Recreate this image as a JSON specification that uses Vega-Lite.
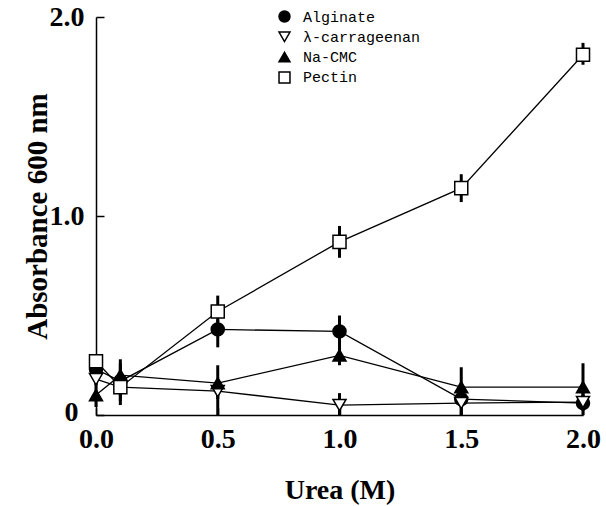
{
  "$schema": "https://vega.github.io/schema/vega-lite/v6.json",
  "autosize": {"type": "none"},
  "padding": {"left": 96, "top": 17, "right": 23, "bottom": 91},
  "width": 487,
  "height": 398,
  "background": "white",
  "config": {
    "view": {"stroke": null},
    "axis": {
      "labelFont": "Liberation Serif",
      "labelFontWeight": "bold",
      "labelFontSize": 28,
      "labelColor": "black",
      "labelFlush": false,
      "labelOverlap": false,
      "titleFont": "Liberation Serif",
      "titleFontWeight": "bold",
      "titleFontSize": 28,
      "titleColor": "black",
      "domainColor": "black",
      "domainWidth": 1.5,
      "tickColor": "black",
      "tickWidth": 1.5,
      "grid": false
    }
  },
  "data": {
    "values": [
      {"series": "Alginate", "urea": 0.0, "abs": 0.23, "lo": 0.20, "hi": 0.26},
      {"series": "Alginate", "urea": 0.1, "abs": 0.17, "lo": 0.07, "hi": 0.26},
      {"series": "Alginate", "urea": 0.5, "abs": 0.43, "lo": 0.34, "hi": 0.48},
      {"series": "Alginate", "urea": 1.0, "abs": 0.42, "lo": 0.34, "hi": 0.50},
      {"series": "Alginate", "urea": 1.5, "abs": 0.08, "lo": 0.0, "hi": 0.15},
      {"series": "Alginate", "urea": 2.0, "abs": 0.06, "lo": 0.0, "hi": 0.12},
      {"series": "λ-carrageenan", "urea": 0.0, "abs": 0.18, "lo": 0.15, "hi": 0.21},
      {"series": "λ-carrageenan", "urea": 0.1, "abs": 0.14, "lo": 0.05, "hi": 0.20},
      {"series": "λ-carrageenan", "urea": 0.5, "abs": 0.12, "lo": 0.0, "hi": 0.16},
      {"series": "λ-carrageenan", "urea": 1.0, "abs": 0.05, "lo": 0.0, "hi": 0.11},
      {"series": "λ-carrageenan", "urea": 1.5, "abs": 0.06, "lo": 0.0, "hi": 0.10},
      {"series": "λ-carrageenan", "urea": 2.0, "abs": 0.065, "lo": 0.02, "hi": 0.10},
      {"series": "Na-CMC", "urea": 0.0, "abs": 0.10, "lo": 0.04, "hi": 0.16},
      {"series": "Na-CMC", "urea": 0.1, "abs": 0.20, "lo": 0.12, "hi": 0.28},
      {"series": "Na-CMC", "urea": 0.5, "abs": 0.16, "lo": 0.08, "hi": 0.25},
      {"series": "Na-CMC", "urea": 1.0, "abs": 0.30, "lo": 0.25, "hi": 0.36},
      {"series": "Na-CMC", "urea": 1.5, "abs": 0.14, "lo": 0.08, "hi": 0.24},
      {"series": "Na-CMC", "urea": 2.0, "abs": 0.14, "lo": 0.08, "hi": 0.26},
      {"series": "Pectin", "urea": 0.0, "abs": 0.27, "lo": 0.24, "hi": 0.30},
      {"series": "Pectin", "urea": 0.1, "abs": 0.14, "lo": 0.10, "hi": 0.18},
      {"series": "Pectin", "urea": 0.5, "abs": 0.52, "lo": 0.46, "hi": 0.60},
      {"series": "Pectin", "urea": 1.0, "abs": 0.87, "lo": 0.79, "hi": 0.95},
      {"series": "Pectin", "urea": 1.5, "abs": 1.14, "lo": 1.07, "hi": 1.21},
      {"series": "Pectin", "urea": 2.0, "abs": 1.81, "lo": 1.76, "hi": 1.87}
    ]
  },
  "layer": [
    {
      "mark": {"type": "rule", "color": "black", "strokeWidth": 3},
      "encoding": {
        "x": {"field": "urea", "type": "quantitative", "scale": {"domain": [0, 2]},
              "axis": {"values": [0, 0.5, 1, 1.5, 2], "format": ".1f", "tickSize": -7, "labelPadding": 17, "title": "Urea (M)", "titlePadding": 23}},
        "y": {"field": "lo", "type": "quantitative", "scale": {"domain": [0, 2]},
              "axis": {"values": [0, 1, 2], "labelExpr": "datum.value == 0 ? '0' : format(datum.value, '.1f')", "tickSize": -8,
                       "labelPadding": {"condition": {"test": "datum.value == 0", "value": 26}, "value": 20},
                       "labelOffset": {"condition": {"test": "datum.value == 0", "value": -3}, "value": 0},
                       "title": "Absorbance 600 nm", "titleFontSize": 29, "titlePadding": -3}},
        "y2": {"field": "hi"}
      }
    },
    {
      "mark": {"type": "line", "color": "black", "strokeWidth": 1.3},
      "encoding": {
        "x": {"field": "urea", "type": "quantitative"},
        "y": {"field": "abs", "type": "quantitative"},
        "detail": {"field": "series"}
      }
    },
    {
      "mark": {"type": "point", "filled": true, "stroke": "black", "strokeWidth": 1.5, "opacity": 1, "size": 170},
      "encoding": {
        "x": {"field": "urea", "type": "quantitative"},
        "y": {"field": "abs", "type": "quantitative"},
        "shape": {"field": "series", "type": "nominal",
                  "scale": {"domain": ["Alginate", "λ-carrageenan", "Na-CMC", "Pectin"], "range": ["circle", "triangle-down", "triangle-up", "square"]},
                  "legend": {"title": null, "orient": "none", "legendX": 181, "legendY": -8, "padding": 0,
                             "labelFont": "Liberation Mono", "labelFontSize": 15, "labelColor": "black",
                             "symbolSize": 120, "labelOffset": 11, "rowPadding": 3.3,
                             "encode": {"symbols": {"update": {"stroke": {"value": "black"}, "strokeWidth": {"value": 1.5}}}}}},
        "fill": {"field": "series", "type": "nominal",
                 "scale": {"domain": ["Alginate", "λ-carrageenan", "Na-CMC", "Pectin"], "range": ["black", "white", "black", "white"]},
                 "legend": {"title": null, "orient": "none", "legendX": 181, "legendY": -8, "padding": 0,
                            "labelFont": "Liberation Mono", "labelFontSize": 15, "labelColor": "black",
                            "symbolSize": 120, "labelOffset": 11, "rowPadding": 3.3,
                            "encode": {"symbols": {"update": {"stroke": {"value": "black"}, "strokeWidth": {"value": 1.5}}}}}}
      }
    }
  ]
}
